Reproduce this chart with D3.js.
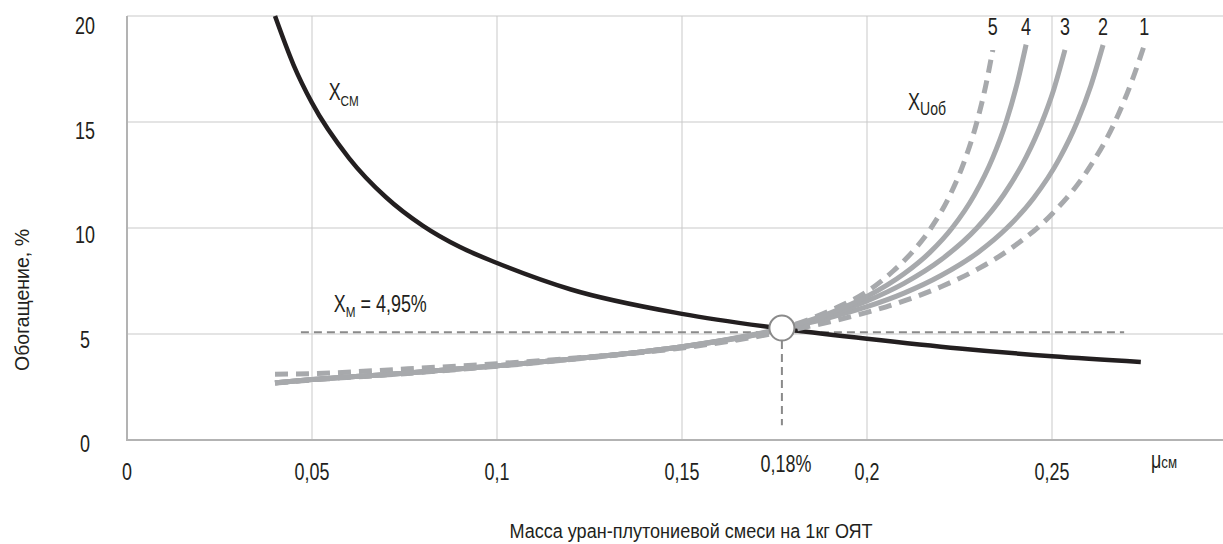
<!DOCTYPE html>
<html>
<head>
<meta charset="utf-8">
<script src="https://cdn.jsdelivr.net/npm/d3@7"></script>
<style>
    body { margin: 0; background: #fff; }
    svg { display: block; }
    text { font-family: "Liberation Sans", Arial, sans-serif; fill: #231f20; }
</style>
</head>
<body>
<svg id="chart" width="1223" height="544"></svg>
<script>
// ticks
const xTicks = [0, 0.05, 0.1, 0.15, 0.2, 0.25]
const xTickLabels = ['0', '0,05', '0,1', '0,15', '0,2', '0,25']
const yTicks = [0, 5, 10, 15, 20]

// X_см curve [μ, %]
const xcm = [[0.040, 20.0], [0.045, 17.7], [0.050, 15.9], [0.060, 13.3], [0.070, 11.45], [0.080, 10.1],
    [0.090, 9.1], [0.100, 8.35], [0.120, 7.1], [0.150, 5.95], [0.177, 5.25], [0.200, 4.78],
    [0.225, 4.32], [0.250, 3.95], [0.274, 3.68]]

// X_Uоб curves 1..5 [μ, %]
const uob1 = [[0.040, 3.1], [0.050, 3.13], [0.075, 3.35], [0.100, 3.6], [0.125, 3.92], [0.150, 4.34], [0.177, 5.1],
    [0.190, 5.58], [0.200, 6.02], [0.210, 6.56], [0.220, 7.23], [0.230, 8.07], [0.240, 9.17], [0.250, 10.66],
    [0.260, 12.82], [0.267, 15.0], [0.2715, 16.89], [0.2749, 18.6]]
const uob2 = [[0.040, 2.7], [0.050, 2.85], [0.075, 3.15], [0.100, 3.5], [0.125, 3.9], [0.150, 4.4], [0.177, 5.25],
    [0.190, 5.78], [0.200, 6.29], [0.210, 6.93], [0.220, 7.76], [0.230, 8.85], [0.2378, 10.0], [0.245, 11.4],
    [0.252, 13.27], [0.2568, 15.0], [0.2605, 16.71], [0.2638, 18.63]]
const uob3 = [[0.040, 2.7], [0.050, 2.85], [0.075, 3.15], [0.100, 3.5], [0.125, 3.9], [0.150, 4.4], [0.177, 5.25],
    [0.190, 5.91], [0.200, 6.56], [0.210, 7.39], [0.220, 8.5], [0.2297, 10.0], [0.237, 11.58], [0.243, 13.34],
    [0.2473, 15.0], [0.2505, 16.55], [0.2535, 18.4]]
const uob4 = [[0.040, 2.7], [0.050, 2.85], [0.075, 3.15], [0.100, 3.5], [0.125, 3.9], [0.150, 4.4], [0.177, 5.25],
    [0.190, 5.99], [0.200, 6.77], [0.210, 7.84], [0.217, 8.85], [0.223, 10.0], [0.229, 11.55], [0.234, 13.32],
    [0.2376, 15.0], [0.2405, 16.76], [0.243, 18.65]]
const uob5 = [[0.040, 2.68], [0.050, 2.83], [0.075, 3.13], [0.100, 3.48], [0.125, 3.88], [0.150, 4.38], [0.177, 5.25],
    [0.190, 6.1], [0.200, 7.0], [0.207, 7.96], [0.2125, 8.92], [0.2173, 10.0], [0.222, 11.4], [0.226, 13.0],
    [0.2297, 15.0], [0.232, 16.64], [0.234, 18.4]]
const uobNames = ['1', '2', '3', '4', '5']
const uobDashed = [true, false, false, false, true]

// reference point X_м
const xmValue = 5.08
const xmRange = [0.047, 0.2695]
const crossPoint = [0.177, 5.28]

const svg = d3.select('#chart')
const pLeft = 127, pRight = 1223, pTop = 16, pBottom = 440
const narrow = 0.78  // condensed look

const x = d3.scaleLinear().domain([0, (pRight - pLeft) / 3700]).range([pLeft, pRight])
const y = d3.scaleLinear().domain([0, 20]).range([pBottom, pTop])

// condensed text helper
const label = (parent, tx, ty, size, anchor, k) => parent.append('text')
    .attr('transform', `translate(${tx},${ty}) scale(${k || narrow},1)`)
    .attr('text-anchor', anchor || 'start')
    .style('font-size', size + 'px')

// grid
svg.append('g').selectAll('line').data(yTicks.filter(d => d > 0)).join('line')
    .attr('x1', pLeft).attr('x2', pRight)
    .attr('y1', d => y(d)).attr('y2', d => y(d))
    .attr('stroke', '#c9c9c9').attr('stroke-width', 1)
svg.append('g').selectAll('line').data(xTicks.filter(d => d > 0)).join('line')
    .attr('x1', d => x(d)).attr('x2', d => x(d))
    .attr('y1', pTop).attr('y2', pBottom)
    .attr('stroke', '#c9c9c9').attr('stroke-width', 1)

// axes lines
svg.append('line').attr('x1', pLeft).attr('x2', pLeft).attr('y1', pTop).attr('y2', pBottom + 1)
    .attr('stroke', '#b3b3b3').attr('stroke-width', 2)
svg.append('line').attr('x1', pLeft).attr('x2', pRight).attr('y1', pBottom).attr('y2', pBottom)
    .attr('stroke', '#b3b3b3').attr('stroke-width', 2)

// tick labels
yTicks.forEach(d => {
    label(svg, 85, y(d) + 12 + d * 0.3, 23, 'middle').text(d)
})
xTicks.forEach((d, i) => {
    label(svg, x(d), 480, 23, 'middle').text(xTickLabels[i])
})
label(svg, x(0.18) - 7, 472, 23, 'middle').text('0,18%')

const mu = label(svg, 1151, 468, 23)
mu.append('tspan').text('μ')
mu.append('tspan').style('font-size', '17px').text('см')

// axis titles
svg.append('text')
    .attr('transform', `translate(29,300) rotate(-90)`)
    .attr('text-anchor', 'middle')
    .style('font-size', '19.5px')
    .text('Обогащение, %')
label(svg, 691, 538, 21, 'middle', 0.86).text('Масса уран-плутониевой смеси на 1кг ОЯТ')

// X_м dashed guides
svg.append('line')
    .attr('x1', x(xmRange[0])).attr('x2', x(xmRange[1]))
    .attr('y1', y(xmValue)).attr('y2', y(xmValue))
    .attr('stroke', '#8a8a8a').attr('stroke-width', 2).attr('stroke-dasharray', '8,5')
svg.append('line')
    .attr('x1', x(crossPoint[0])).attr('x2', x(crossPoint[0]))
    .attr('y1', y(crossPoint[1])).attr('y2', y(0.7))
    .attr('stroke', '#8a8a8a').attr('stroke-width', 2).attr('stroke-dasharray', '8,5')

const line = d3.line().x(d => x(d[0])).y(d => y(d[1])).curve(d3.curveMonotoneX)

// X_см
svg.append('path').datum(xcm).attr('d', line)
    .attr('fill', 'none').attr('stroke', '#231f20').attr('stroke-width', 4.5)

// X_Uоб
const uob = [uob1, uob2, uob3, uob4, uob5]
const order = [0, 4, 1, 2, 3]
order.forEach(i => {
    svg.append('path').datum(uob[i]).attr('d', line)
        .attr('fill', 'none').attr('stroke', '#a7a9ac').attr('stroke-width', 5)
        .attr('stroke-dasharray', uobDashed[i] ? '13,8' : null)
})

uob.forEach((d, i) => {
    label(svg, x(d[d.length - 1][0]), 35, 23, 'middle').text(uobNames[i])
})

svg.append('circle')
    .attr('cx', x(crossPoint[0])).attr('cy', y(crossPoint[1])).attr('r', 12.5)
    .attr('fill', '#fff').attr('stroke', '#8a8a8a').attr('stroke-width', 2)

// curve labels
const lcm = label(svg, x(0.0545), 100, 23)
lcm.append('tspan').text('X')
lcm.append('tspan').attr('dy', 6).style('font-size', '15px').text('СМ')

const lm = label(svg, x(0.0559), 312, 23)
lm.append('tspan').text('X')
lm.append('tspan').attr('dy', 5).style('font-size', '15px').text('М')
lm.append('tspan').attr('dy', -5).text(' = 4,95%')

const lu = label(svg, x(0.2111), 110, 23)
lu.append('tspan').text('X')
lu.append('tspan').attr('dy', 5).style('font-size', '18px').text('Uоб')
</script>
</body>
</html>
